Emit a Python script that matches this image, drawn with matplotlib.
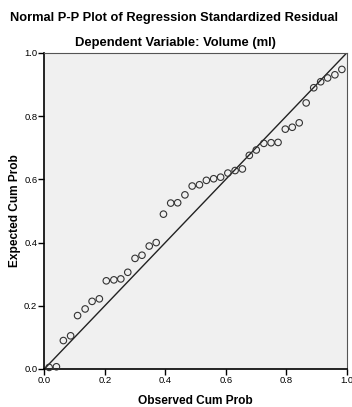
import numpy as np
import matplotlib.pyplot as plt

plt.rcParams['font.family'] = ['Liberation Sans', 'DejaVu Sans']

# observed / expected cumulative probabilities
observed = [0.016, 0.040, 0.063, 0.087, 0.110, 0.135, 0.158, 0.182, 0.205, 0.230,
            0.253, 0.276, 0.300, 0.323, 0.347, 0.370, 0.394, 0.418, 0.441, 0.465,
            0.489, 0.513, 0.536, 0.560, 0.583, 0.607, 0.631, 0.655, 0.678, 0.701,
            0.726, 0.750, 0.773, 0.797, 0.820, 0.843, 0.866, 0.891, 0.914, 0.937,
            0.961, 0.984]
expected = [0.005, 0.007, 0.090, 0.105, 0.169, 0.190, 0.214, 0.222, 0.279, 0.282,
            0.285, 0.306, 0.350, 0.360, 0.389, 0.400, 0.490, 0.525, 0.526, 0.551,
            0.579, 0.583, 0.597, 0.602, 0.607, 0.620, 0.628, 0.633, 0.676, 0.693,
            0.714, 0.716, 0.717, 0.759, 0.765, 0.779, 0.842, 0.890, 0.909, 0.921,
            0.931, 0.948]
ticks = [0.0, 0.2, 0.4, 0.6, 0.8, 1.0]
tick_labels = ['0.0', '0.2', '0.4', '0.6', '0.8', '1.0']

fig = plt.figure(figsize=(3.52, 4.07), dpi=100)
ax = fig.add_axes([0.1259, 0.0934, 0.859, 0.7764])
ax.set_facecolor('#f0f0f0')

ax.plot([0, 1], [0, 1], color='#222222', lw=1.0, zorder=2)
ax.scatter(observed, expected, s=22, facecolors='none', edgecolors='#333333',
           linewidths=0.8, zorder=3, clip_on=False)

ax.set_xlim(0, 1)
ax.set_ylim(0, 1)
ax.set_xticks(ticks)
ax.set_xticklabels(tick_labels)
ax.set_yticks(ticks)
ax.set_yticklabels(tick_labels)
ax.tick_params(direction='out', length=4, width=1, labelsize=6.8, pad=1, colors='black')

for s in ['left', 'bottom']:
    ax.spines[s].set_color('black')
    ax.spines[s].set_linewidth(1.2)
for s in ['top', 'right']:
    ax.spines[s].set_color('#555555')
    ax.spines[s].set_linewidth(0.8)

ax.set_xlabel('Observed Cum Prob', fontsize=8.6, fontweight='bold', labelpad=7)
ax.set_ylabel('Expected Cum Prob', fontsize=8.6, fontweight='bold', labelpad=2)

fig.text(0.493, 0.956, 'Normal P-P Plot of Regression Standardized Residual',
         ha='center', va='center', fontsize=9.3, fontweight='bold')
fig.text(0.497, 0.894, 'Dependent Variable: Volume (ml)',
         ha='center', va='center', fontsize=9.4, fontweight='bold')

plt.savefig('out.png', dpi=100)
